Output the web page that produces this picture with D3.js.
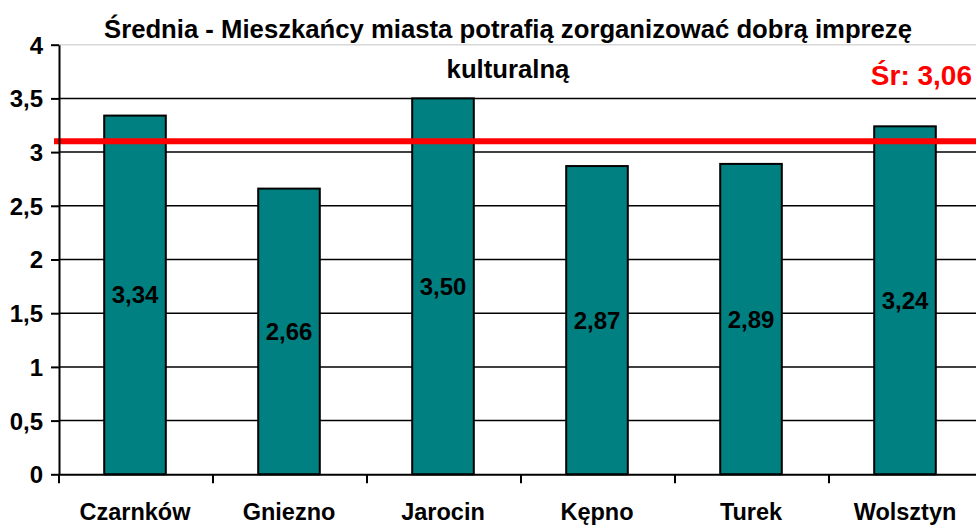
<!DOCTYPE html>
<html>
<head>
<meta charset="utf-8">
<script src="https://cdn.jsdelivr.net/npm/d3@7"></script>
<style>
  body { margin: 0; background: #fff; }
  svg { display: block; font-family: "Liberation Sans", Arial, sans-serif; font-weight: bold; }
</style>
</head>
<body>
<svg width="976" height="526"></svg>
<script>
const cities = ["Czarnków", "Gniezno", "Jarocin", "Kępno", "Turek", "Wolsztyn"];
const values = [3.34, 2.66, 3.50, 2.87, 2.89, 3.24];
const yTicks = [0, 0.5, 1, 1.5, 2, 2.5, 3, 3.5, 4];
const meanLabel = "Śr: 3,06";
const meanLineAt = 3.1;
const titleLines = ["Średnia - Mieszkańcy miasta potrafią zorganizować dobrą imprezę", "kulturalną"];

const svg = d3.select("svg");
const plotLeft = 59, plotRight = 983, plotTop = 44.7, plotBottom = 474.3;

const x = d3.scaleBand().domain(cities).range([plotLeft, plotRight]).paddingInner(0.6).paddingOuter(0.3);
const y = d3.scaleLinear().domain([0, 4]).range([plotBottom, plotTop]);
const fmt = v => String(v).replace(".", ",");

// gridlines
svg.append("g").selectAll("line")
  .data(yTicks.filter(d => d > 0))
  .join("line")
  .attr("x1", plotLeft).attr("x2", plotRight)
  .attr("y1", d => y(d)).attr("y2", d => y(d))
  .attr("stroke", d => d === 4 ? "#d8d8d8" : "#000")
  .attr("stroke-width", 1.5);

// bars
svg.append("g").selectAll("rect")
  .data(values)
  .join("rect")
  .attr("x", (d, i) => x(cities[i]) - 1)
  .attr("width", x.bandwidth())
  .attr("y", d => y(d))
  .attr("height", d => y(0) - y(d))
  .attr("fill", "#008080")
  .attr("stroke", "#000")
  .attr("stroke-width", 2);

// value labels
svg.append("g").selectAll("text")
  .data(values)
  .join("text")
  .attr("x", (d, i) => x(cities[i]) - 1 + x.bandwidth() / 2)
  .attr("y", d => (y(d) + y(0)) / 2 + 8.5)
  .attr("text-anchor", "middle")
  .attr("font-size", 24)
  .text(d => d.toFixed(2).replace(".", ","));

// mean line
svg.append("line")
  .attr("x1", 54).attr("x2", 976)
  .attr("y1", y(meanLineAt)).attr("y2", y(meanLineAt))
  .attr("stroke", "#ff0000")
  .attr("stroke-width", 6);

// y axis
const yAxis = svg.append("g")
  .attr("transform", `translate(${plotLeft},0)`)
  .call(d3.axisLeft(y).tickValues(yTicks).tickFormat(fmt).tickSize(8).tickSizeOuter(0));
yAxis.select(".domain").attr("stroke", "#000").attr("stroke-width", 2);
yAxis.selectAll(".tick line").attr("stroke", "#000").attr("stroke-width", 2);
yAxis.selectAll(".tick text")
  .attr("font-family", "Liberation Sans, Arial, sans-serif")
  .attr("font-weight", "bold")
  .attr("font-size", 24)
  .attr("fill", "#000")
  .attr("x", -16)
  .attr("dy", "0.35em");

// x axis
const xAxis = svg.append("g")
  .attr("transform", `translate(0,${plotBottom})`)
  .call(d3.axisBottom(x).tickSize(0).tickPadding(0));
xAxis.select(".domain").attr("stroke", "#000").attr("stroke-width", 2);
xAxis.selectAll(".tick text")
  .attr("font-family", "Liberation Sans, Arial, sans-serif")
  .attr("font-weight", "bold")
  .attr("font-size", 23.5)
  .attr("fill", "#000")
  .attr("x", -1)
  .attr("y", 46)
  .attr("dy", 0);
const step = x.step();
xAxis.append("g").selectAll("line")
  .data(d3.range(cities.length + 1))
  .join("line")
  .attr("x1", i => plotLeft + i * step).attr("x2", i => plotLeft + i * step)
  .attr("y1", 0).attr("y2", 9)
  .attr("stroke", "#000").attr("stroke-width", 2);

// title
svg.append("g").selectAll("text")
  .data(titleLines)
  .join("text")
  .attr("x", 508)
  .attr("y", (d, i) => 38 + i * 40)
  .attr("text-anchor", "middle")
  .attr("font-size", 25.7)
  .text(d => d);

svg.append("text")
  .attr("x", 972).attr("y", 85)
  .attr("text-anchor", "end")
  .attr("font-size", 28)
  .attr("fill", "#ff0000")
  .text(meanLabel);
</script>
</body>
</html>
